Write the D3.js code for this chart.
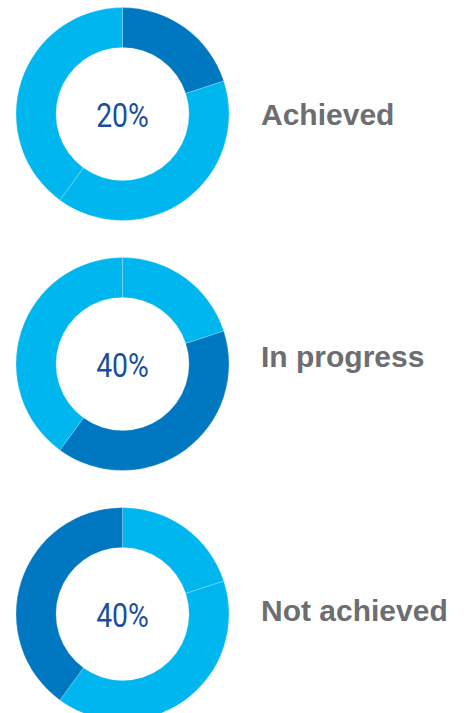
<!DOCTYPE html>
<html>
<head>
<meta charset="utf-8">
<script src="https://cdn.jsdelivr.net/npm/d3@7"></script>
<style>
  body { margin: 0; background: #fff; }
</style>
</head>
<body>
<svg class="chart"></svg>
<script>
var categories = ["Achieved", "In progress", "Not achieved"];
var values = [20, 40, 40];
var centreLabels = ["20%", "40%", "40%"];

var width = 470, height = 713;
var outerR = 106.5, innerR = 66.5;
var cx = 122.5;
// small per-row nudges of the side labels (layout only)
var labelDy = [11, 3, 7];

var chart = d3.select(".chart")
    .attr("width", width)
    .attr("height", height);

// one donut per category, spaced down the page
var yScale = d3.scalePoint()
    .domain(categories)
    .range([114, 614]);

var pie = d3.pie().sort(null).value(function(d) { return d; });
var arc = d3.arc().innerRadius(innerR).outerRadius(outerR);

categories.forEach(function(cat, i) {
  var g = chart.append("g")
      .attr("transform", "translate(" + cx + "," + yScale(cat) + ")");

  g.selectAll("path")
      .data(pie(values))
    .enter().append("path")
      .attr("d", arc)
      .attr("fill", function(d, j) { return j === i ? "#0077c1" : "#00b6ef"; })
      .attr("stroke", "#ffffff")
      .attr("stroke-opacity", 0.35)
      .attr("stroke-width", 0.6);

  g.append("text")
      .attr("text-anchor", "middle")
      .attr("transform", "translate(0,13) scale(0.86,1)")
      .attr("font-family", "Roboto, sans-serif")
      .attr("font-size", 33)
      .attr("fill", "#1b4f9c")
      .text(centreLabels[i]);

  chart.append("text")
      .attr("x", 261)
      .attr("y", yScale(cat) + labelDy[i])
      .attr("font-family", "'Liberation Sans', Arial, sans-serif")
      .attr("font-weight", "bold")
      .attr("font-size", 30)
      .attr("fill", "#6d6e71")
      .text(cat);
});
</script>
</body>
</html>
